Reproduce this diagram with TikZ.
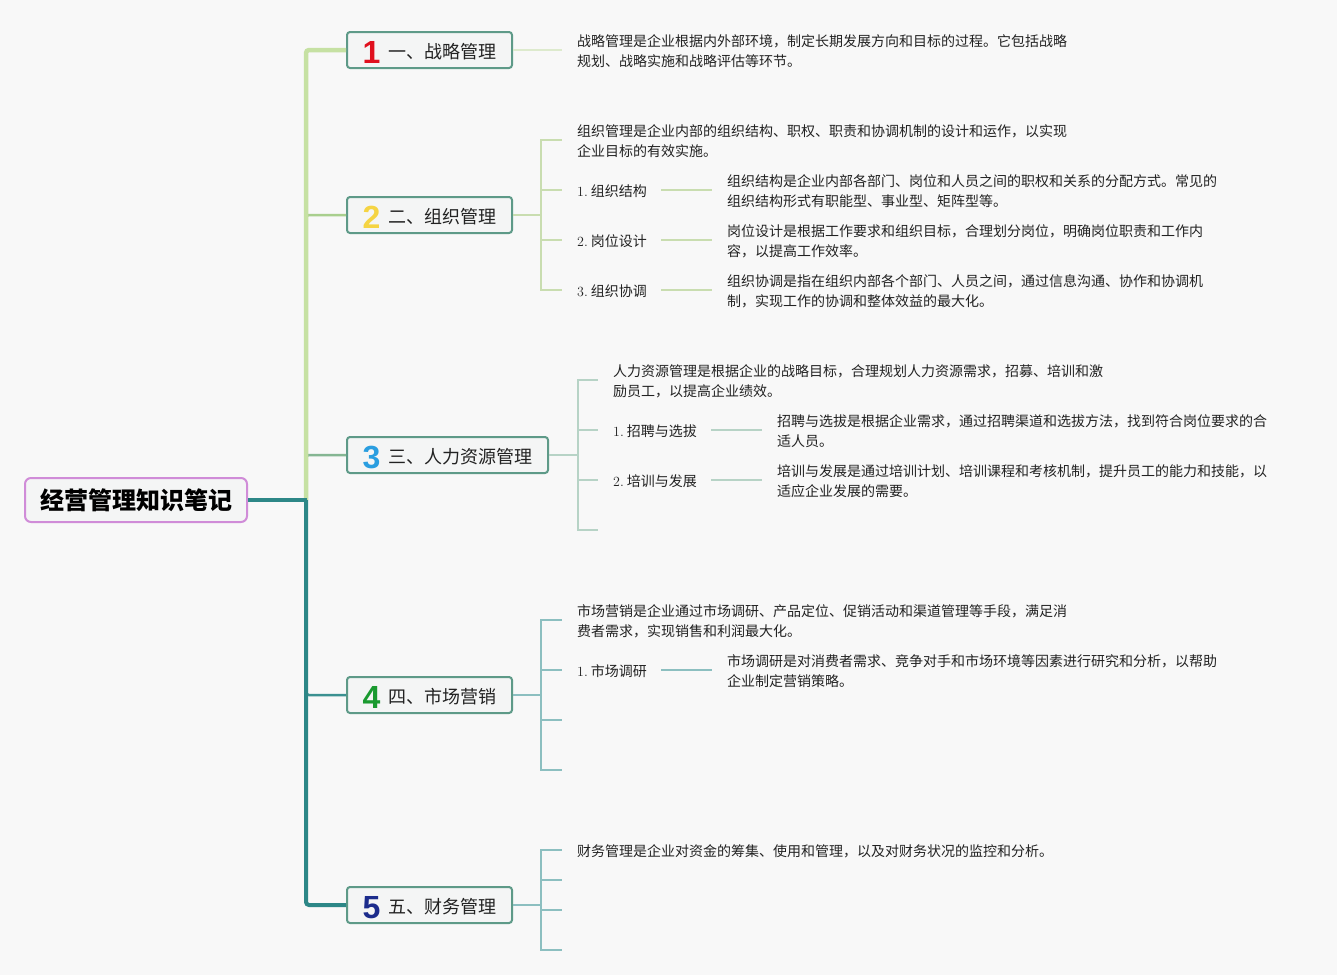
\documentclass[tikz,border=0pt]{standalone}
\usepackage{fontspec}
\newfontfamily\cjk{Noto Sans CJK SC}
\newfontfamily\numfont{Liberation Sans}
\newcommand\branchlabel[3]{\raisebox{-5pt}{\smash{\color{#1}\numfont\bfseries\fontsize{32}{32}\selectfont #2}}\hspace{8pt}\smash{#3}}
\newcommand\itemtext[2]{#1.\hspace{3pt}{\cjk #2}}
\definecolor{bg}{HTML}{F8F8F8}
\definecolor{txt}{HTML}{222222}
\definecolor{rootc}{HTML}{D08CD8}
\definecolor{boxc}{HTML}{5E9A88}
\definecolor{boxf}{HTML}{F4F5F5}
\definecolor{cA}{HTML}{C6E1A3}
\definecolor{cB}{HTML}{A9CF8E}
\definecolor{cC}{HTML}{85B693}
\definecolor{cD}{HTML}{3B9191}
\definecolor{cE}{HTML}{2D8787}
\definecolor{sA}{HTML}{DDEACD}
\definecolor{sB}{HTML}{C9DDB0}
\definecolor{sC}{HTML}{B7D3C6}
\definecolor{sD}{HTML}{8CBFC0}
\definecolor{nA}{HTML}{E0101E}
\definecolor{nB}{HTML}{F5D443}
\definecolor{nC}{HTML}{2A9EE0}
\definecolor{nD}{HTML}{1A9A30}
\definecolor{nE}{HTML}{1C2C8C}
\begin{document}
\begin{tikzpicture}[x=1pt,y=-1pt,
  rootbox/.style={draw=rootc,line width=2pt,rounded corners=6pt,fill=boxf,minimum width=222pt,minimum height=44pt,inner sep=0pt,font=\cjk\bfseries\fontsize{24}{28}\selectfont,text=black},
  branchbox/.style={draw=boxc,line width=2pt,rounded corners=3pt,fill=boxf,minimum width=165pt,minimum height=36pt,inner sep=0pt,text height=16.5pt,text depth=0pt,font=\cjk\fontsize{18}{22}\selectfont,text=txt},
  desc/.style={anchor=west,inner sep=0pt,align=left,yshift=-1.5pt,font=\cjk\fontsize{14}{20}\selectfont,text=txt},
  item/.style={anchor=west,inner sep=0pt,yshift=-1.5pt,font=\fontsize{14}{20}\selectfont,text=txt},
  trunk/.style={rounded corners=3pt},
  sub/.style={line width=1.5pt}
]
\useasboundingbox[fill=bg] (0,0) rectangle (1337,975);

% nodes
\node[rootbox] (root) at (136,500) {经营管理知识笔记};
\node[branchbox] (b1) at (429.5,50) {\branchlabel{nA}{1}{一、战略管理}};
\node[branchbox] (b2) at (429.5,215) {\branchlabel{nB}{2}{二、组织管理}};
\node[branchbox,minimum width=201pt] (b3) at (447.5,455) {\branchlabel{nC}{3}{三、人力资源管理}};
\node[branchbox] (b4) at (429.5,695) {\branchlabel{nD}{4}{四、市场营销}};
\node[branchbox] (b5) at (429.5,905) {\branchlabel{nE}{5}{五、财务管理}};

\coordinate (hub) at (306,500);

% main connectors
\draw[trunk,cB,line width=2.5pt] (hub) |- (b2.west);
\draw[trunk,cC,line width=2.5pt] (hub) |- (b3.west);
\draw[trunk,cA,line width=4.5pt] (hub) |- (b1.west);
\draw[trunk,cD,line width=2.5pt] (hub) |- (b4.west);
\draw[trunk,cE,line width=4pt] (hub) |- (b5.west);
\draw[cE,line width=4pt] (root.east) -- ([xshift=1pt]hub);

% branch 1
\node[desc] (d1) at (577,50) {战略管理是企业根据内外部环境，制定长期发展方向和目标的过程。它包括战略\\规划、战略实施和战略评估等环节。};
\draw[sub,sA] (b1.east) -- ([xshift=-15pt,yshift=1.5pt]d1.west);

% branch 2
\node[desc] (d2) at (577,140) {组织管理是企业内部的组织结构、职权、职责和协调机制的设计和运作，以实现\\企业目标的有效实施。};
\node[item] (i21) at (577,190) {\itemtext{1}{组织结构}};
\node[item] (i22) at (577,240) {\itemtext{2}{岗位设计}};
\node[item] (i23) at (577,290) {\itemtext{3}{组织协调}};
\node[desc] (d21) at (727,190) {组织结构是企业内部各部门、岗位和人员之间的职权和关系的分配方式。常见的\\组织结构形式有职能型、事业型、矩阵型等。};
\node[desc] (d22) at (727,240) {岗位设计是根据工作要求和组织目标，合理划分岗位，明确岗位职责和工作内\\容，以提高工作效率。};
\node[desc] (d23) at (727,290) {组织协调是指在组织内部各个部门、人员之间，通过信息沟通、协作和协调机\\制，实现工作的协调和整体效益的最大化。};
\coordinate (j2) at (541,215);
\draw[sub,sB] (b2.east) -- (j2);
\draw[sub,sB] (j2) |- ([xshift=-15pt,yshift=1.5pt]d2.west);
\draw[sub,sB] (j2) |- ([xshift=-15pt,yshift=1.5pt]i21.west);
\draw[sub,sB] (j2) |- ([xshift=-15pt,yshift=1.5pt]i22.west);
\draw[sub,sB] (j2) |- ([xshift=-15pt,yshift=1.5pt]i23.west);
\draw[sub,sB] ([xshift=14pt,yshift=1.5pt]i21.east) -- ([xshift=-15pt,yshift=1.5pt]d21.west);
\draw[sub,sB] ([xshift=14pt,yshift=1.5pt]i22.east) -- ([xshift=-15pt,yshift=1.5pt]d22.west);
\draw[sub,sB] ([xshift=14pt,yshift=1.5pt]i23.east) -- ([xshift=-15pt,yshift=1.5pt]d23.west);

% branch 3
\node[desc] (d3) at (613,380) {人力资源管理是根据企业的战略目标，合理规划人力资源需求，招募、培训和激\\励员工，以提高企业绩效。};
\node[item] (i31) at (613,430) {\itemtext{1}{招聘与选拔}};
\node[item] (i32) at (613,480) {\itemtext{2}{培训与发展}};
\node[desc] (d31) at (777,430) {招聘与选拔是根据企业需求，通过招聘渠道和选拔方法，找到符合岗位要求的合\\适人员。};
\node[desc] (d32) at (777,480) {培训与发展是通过培训计划、培训课程和考核机制，提升员工的能力和技能，以\\适应企业发展的需要。};
\coordinate (j3) at (578,455);
\coordinate (e34) at (598,530);
\draw[sub,sC] (b3.east) -- (j3);
\draw[sub,sC] (j3) |- ([xshift=-15pt,yshift=1.5pt]d3.west);
\draw[sub,sC] (j3) |- ([xshift=-15pt,yshift=1.5pt]i31.west);
\draw[sub,sC] (j3) |- ([xshift=-15pt,yshift=1.5pt]i32.west);
\draw[sub,sC] (j3) |- (e34);
\draw[sub,sC] ([xshift=14pt,yshift=1.5pt]i31.east) -- ([xshift=-15pt,yshift=1.5pt]d31.west);
\draw[sub,sC] ([xshift=14pt,yshift=1.5pt]i32.east) -- ([xshift=-15pt,yshift=1.5pt]d32.west);

% branch 4
\node[desc] (d4) at (577,620) {市场营销是企业通过市场调研、产品定位、促销活动和渠道管理等手段，满足消\\费者需求，实现销售和利润最大化。};
\node[item] (i41) at (577,670) {\itemtext{1}{市场调研}};
\node[desc] (d41) at (727,670) {市场调研是对消费者需求、竞争对手和市场环境等因素进行研究和分析，以帮助\\企业制定营销策略。};
\coordinate (j4) at (541,695);
\coordinate (e43) at (562,720);
\coordinate (e44) at (562,770);
\draw[sub,sD] (b4.east) -- (j4);
\draw[sub,sD] (j4) |- ([xshift=-15pt,yshift=1.5pt]d4.west);
\draw[sub,sD] (j4) |- ([xshift=-15pt,yshift=1.5pt]i41.west);
\draw[sub,sD] (j4) |- (e43);
\draw[sub,sD] (j4) |- (e44);
\draw[sub,sD] ([xshift=14pt,yshift=1.5pt]i41.east) -- ([xshift=-15pt,yshift=1.5pt]d41.west);

% branch 5
\node[desc] (d5) at (577,850) {财务管理是企业对资金的筹集、使用和管理，以及对财务状况的监控和分析。};
\coordinate (j5) at (541,905);
\coordinate (e52) at (562,880);
\coordinate (e53) at (562,910);
\coordinate (e54) at (562,950);
\draw[sub,sD] (b5.east) -- (j5);
\draw[sub,sD] (j5) |- ([xshift=-15pt,yshift=1.5pt]d5.west);
\draw[sub,sD] (j5) |- (e52);
\draw[sub,sD] (j5) |- (e53);
\draw[sub,sD] (j5) |- (e54);
\end{tikzpicture}
\end{document}
